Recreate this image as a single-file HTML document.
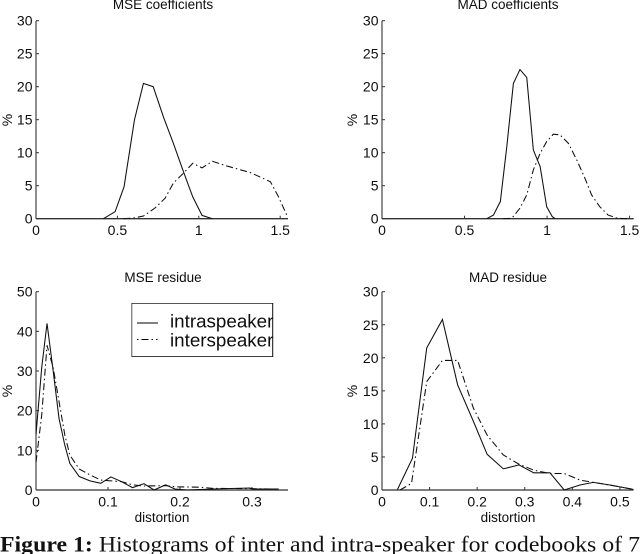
<!DOCTYPE html>
<html>
<head>
<meta charset="utf-8">
<style>
html,body{margin:0;padding:0;background:#fff;width:640px;height:554px;overflow:hidden}
svg{display:block;position:absolute;left:0;top:0}
text{font-family:"Liberation Sans",sans-serif;fill:#111}
</style>
</head>
<body>
<svg id="fig" width="640" height="554" viewBox="0 0 640 554" xmlns="http://www.w3.org/2000/svg">
  <defs><filter id="soft" x="0" y="0" width="100%" height="100%"><feGaussianBlur stdDeviation="0.3"/></filter></defs>
  <g id="plots" filter="url(#soft)"></g>
  <g filter="url(#soft)">
    <rect x="131.7" y="303.2" width="141" height="53.5" fill="#fff" stroke="#111" stroke-width="1"/>
    <line x1="137" x2="158" y1="323" y2="323" stroke="#000" stroke-width="1"/>
    <line x1="137" x2="158" y1="339.5" y2="339.5" stroke="#000" stroke-width="1" stroke-dasharray="1.5 3 7 3 1.5 3"/>
    <svg x="131" y="303" width="142" height="54">
      <text x="39" y="24.7" font-size="18.8">intraspeaker</text>
      <text x="39" y="43.7" font-size="18.8">interspeaker</text>
    </svg>
  </g>
  <text x="0" y="551.5" style="font-family:'Liberation Serif',serif;fill:#111" font-size="22" textLength="640" lengthAdjust="spacingAndGlyphs"><tspan font-weight="bold">Figure 1:</tspan> Histograms of inter and intra-speaker for codebooks of 7</text>
</svg>
<script>
// Panel 1: MSE coefficients
const mseCoefIntraX = [0.414,0.486,0.541,0.605,0.66,0.72,0.783,0.844,0.906,0.963,1.02,1.084];
const mseCoefIntraY = [0,1.07,4.85,15,20.5,20,15.4,11.4,7.1,3.3,0.5,0];
const mseCoefInterX = [0.537,0.6,0.66,0.73,0.793,0.844,0.906,0.963,1.02,1.084,1.17,1.316,1.44,1.49,1.545];
const mseCoefInterY = [0,0.1,0.4,1.6,3.1,5.4,6.9,8.4,7.7,8.7,8,7,5.6,3.3,0.3];
// Panel 2: MAD coefficients
const madCoefIntraX = [0.634,0.675,0.717,0.756,0.796,0.836,0.877,0.917,0.958,0.998,1.032,1.05];
const madCoefIntraY = [0,0.55,2.6,10.9,20.5,22.6,21.4,10.4,7.9,1.8,0.3,0];
const madCoefInterX = [0.735,0.786,0.836,0.877,0.917,0.958,0.998,1.038,1.079,1.13,1.18,1.23,1.27,1.32,1.37,1.43,1.49];
const madCoefInterY = [0,0.05,1.6,3.6,7.4,9.9,11.7,12.8,12.7,11.4,8.9,6.1,3.6,1.8,0.55,0.05,0];
// Panel 3: MSE residue
const mseResIntraX = [0,0.008,0.0153,0.024,0.032,0.04,0.047,0.06,0.075,0.09,0.104,0.119,0.134,0.15,0.164,0.18,0.193,0.21,0.246,0.297,0.302,0.337];
const mseResIntraY = [14,31,42,29.8,18,11.3,6.7,3.4,2.3,1.7,3.3,2.1,0.6,1.6,0,1.3,0.25,0,0.25,0.5,0.25,0.25];
const mseResInterX = [0,0.008,0.0153,0.024,0.032,0.04,0.047,0.06,0.075,0.09,0.104,0.119,0.134,0.15,0.18,0.195,0.228,0.246,0.297,0.337];
const mseResInterY = [7,19,36.5,30.7,22.3,13.9,8.8,5.3,3.8,2.5,2.3,2.1,1.3,1,1.1,0.8,0.7,0.4,0.35,0.2];
// Panel 4: MAD residue
const madResIntraX = [0.032,0.064,0.094,0.127,0.159,0.192,0.221,0.255,0.288,0.319,0.353,0.383,0.416,0.444,0.479,0.528];
const madResIntraY = [0,4.8,21.5,25.8,15.9,10.4,5.4,3.2,3.8,2.6,2.6,0,0.75,1.15,0.75,0.1];
const madResInterX = [0.038,0.062,0.094,0.127,0.159,0.192,0.221,0.255,0.288,0.319,0.353,0.383,0.416,0.444,0.479,0.528];
const madResInterY = [0,1,16.4,19.6,19.6,12.4,8.3,5.3,3.9,3,2.5,2.5,1.5,1.15,0.75,0.1];
// Tick labels
const coefXTicks = [0,0.5,1,1.5];
const coefYTicks = [0,5,10,15,20,25,30];
const mseResXTicks = [0,0.1,0.2,0.3];
const mseResYTicks = [0,10,20,30,40,50];
const madResXTicks = [0,0.1,0.2,0.3,0.4,0.5];
const madResYTicks = [0,5,10,15,20,25,30];

const NS = 'http://www.w3.org/2000/svg';
const root = document.getElementById('plots');

function svgEl(tag, parent) {
  const el = document.createElementNS(NS, tag);
  parent.appendChild(el);
  return el;
}

function drawSeries(g, xs, ys, sx, sy, dashed, name) {
  const d = xs.map((x, i) => (i ? 'L' : 'M') + sx(x).toFixed(2) + ' ' + sy(ys[i]).toFixed(2)).join('');
  const p = svgEl('path', g);
  
  
  p.setAttribute('d', d);
  p.setAttribute('fill', 'none');
  p.setAttribute('stroke', '#111');
  p.setAttribute('stroke-width', '1.05');
  if (dashed) p.setAttribute('stroke-dasharray', '7 3 1.5 3');
}

function drawPanel(cfg) {
  const g = svgEl('g', root);
  
  
  const sx = v => cfg.left + (v / cfg.xMax) * (cfg.right - cfg.left);
  const sy = v => cfg.bottom - (v / cfg.yMax) * (cfg.bottom - cfg.top);

  const yAxis = svgEl('line', g);
  
  
  yAxis.setAttribute('x1', cfg.left); yAxis.setAttribute('x2', cfg.left);
  yAxis.setAttribute('y1', cfg.top); yAxis.setAttribute('y2', cfg.bottom);
  yAxis.setAttribute('stroke', '#333');
  yAxis.setAttribute('stroke-width', '1.1');

  const xAxis = svgEl('line', g);
  
  
  xAxis.setAttribute('x1', cfg.left); xAxis.setAttribute('x2', cfg.right);
  xAxis.setAttribute('y1', cfg.bottom); xAxis.setAttribute('y2', cfg.bottom);
  xAxis.setAttribute('stroke', '#333');
  xAxis.setAttribute('stroke-width', '1.3');

  cfg.xTicks.forEach(v => {
    const t = svgEl('line', g);
    
    
    t.setAttribute('x1', sx(v)); t.setAttribute('x2', sx(v));
    t.setAttribute('y1', cfg.bottom); t.setAttribute('y2', cfg.bottom - 3);
    t.setAttribute('stroke', '#333');
    const l = svgEl('text', g);
    
    
    l.setAttribute('x', sx(v));
    l.setAttribute('y', cfg.bottom + 16.5);
    l.setAttribute('font-size', '14');
    l.setAttribute('text-anchor', 'middle');
    l.textContent = String(v);
  });

  cfg.yTicks.forEach(v => {
    const t = svgEl('line', g);
    
    
    t.setAttribute('x1', cfg.left); t.setAttribute('x2', cfg.left + 3);
    t.setAttribute('y1', sy(v)); t.setAttribute('y2', sy(v));
    t.setAttribute('stroke', '#333');
    const l = svgEl('text', g);
    
    
    l.setAttribute('x', cfg.left - 3.5);
    l.setAttribute('y', sy(v) + 5);
    l.setAttribute('font-size', '14');
    l.setAttribute('text-anchor', 'end');
    l.textContent = String(v);
  });

  drawSeries(g, cfg.intraX, cfg.intraY, sx, sy, false, cfg.id + '-intraspeaker-line');
  drawSeries(g, cfg.interX, cfg.interY, sx, sy, true, cfg.id + '-interspeaker-line');

  const title = svgEl('text', g);
  
  
  title.setAttribute('x', cfg.titleX);
  title.setAttribute('y', cfg.titleY);
  title.setAttribute('font-size', '13.5');
  title.setAttribute('text-anchor', 'middle');
  title.textContent = cfg.title;

  const yl = svgEl('text', g);
  
  
  yl.setAttribute('font-size', '14');
  yl.setAttribute('text-anchor', 'middle');
  yl.setAttribute('transform', 'translate(' + cfg.yLabelX + ' ' + cfg.yLabelY + ') rotate(-90)');
  yl.textContent = '%';

  if (cfg.xLabel) {
    const xl = svgEl('text', g);
    
    
    xl.setAttribute('x', cfg.xLabelX);
    xl.setAttribute('y', 522);
    xl.setAttribute('font-size', '13.5');
    xl.setAttribute('text-anchor', 'middle');
    xl.textContent = cfg.xLabel;
  }
}

drawPanel({id:'mse-coefficients', title:'MSE coefficients', titleX:163, titleY:9,
  left:36, right:288, top:20.7, bottom:218.7, xMax:1.548, yMax:30,
  xTicks:coefXTicks, yTicks:coefYTicks,
  intraX:mseCoefIntraX, intraY:mseCoefIntraY, interX:mseCoefInterX, interY:mseCoefInterY,
  yLabelX:12, yLabelY:120});
drawPanel({id:'mad-coefficients', title:'MAD coefficients', titleX:508, titleY:9,
  left:382, right:633.7, top:20.7, bottom:218.7, xMax:1.525, yMax:30,
  xTicks:coefXTicks, yTicks:coefYTicks,
  intraX:madCoefIntraX, intraY:madCoefIntraY, interX:madCoefInterX, interY:madCoefInterY,
  yLabelX:357, yLabelY:120});
drawPanel({id:'mse-residue', title:'MSE residue', titleX:163, titleY:282,
  left:36, right:288, top:291.7, bottom:490, xMax:0.35, yMax:50,
  xTicks:mseResXTicks, yTicks:mseResYTicks,
  intraX:mseResIntraX, intraY:mseResIntraY, interX:mseResInterX, interY:mseResInterY,
  yLabelX:12, yLabelY:391, xLabel:'distortion', xLabelX:162});
drawPanel({id:'mad-residue', title:'MAD residue', titleX:508, titleY:282,
  left:382, right:633.7, top:291.7, bottom:490, xMax:0.529, yMax:30,
  xTicks:madResXTicks, yTicks:madResYTicks,
  intraX:madResIntraX, intraY:madResIntraY, interX:madResInterX, interY:madResInterY,
  yLabelX:357, yLabelY:391, xLabel:'distortion', xLabelX:508});
</script>
</body>
</html>
